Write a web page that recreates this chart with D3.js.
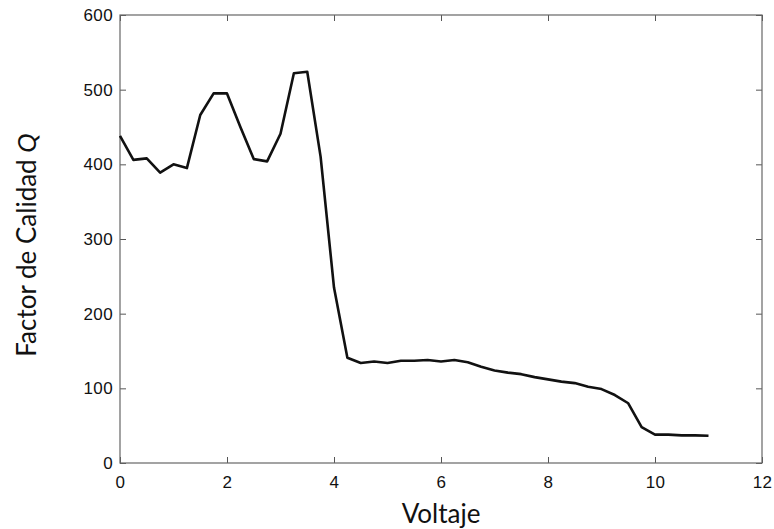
<!DOCTYPE html>
<html>
<head>
<meta charset="utf-8">
<script src="https://cdn.jsdelivr.net/npm/d3@7"></script>
<style>
  body { margin: 0; background: #fff; }
  svg { display: block; }
</style>
</head>
<body>
<svg id="chart" width="774" height="529"></svg>
<script>
// voltage samples (V) and quality factor
var voltaje = [0, 0.25, 0.5, 0.75, 1, 1.25, 1.5, 1.75, 2, 2.25, 2.5, 2.75, 3, 3.25, 3.5, 3.75,
  4, 4.25, 4.5, 4.75, 5, 5.25, 5.5, 5.75, 6, 6.25, 6.5, 6.75, 7, 7.25, 7.5, 7.75,
  8, 8.25, 8.5, 8.75, 9, 9.25, 9.5, 9.75, 10, 10.25, 10.5, 10.75, 11];
var factorQ = [438, 406, 408, 389, 400, 395, 466, 495, 495, 450, 407, 404, 441, 522, 524, 410,
  235, 141, 134, 136, 134, 137, 137, 138, 136, 138, 135, 129, 124, 121, 119, 115,
  112, 109, 107, 102, 99, 91, 80, 48, 38, 38, 37, 37, 36.5];
var xTicks = [0, 2, 4, 6, 8, 10, 12];
var yTicks = [0, 100, 200, 300, 400, 500, 600];

var svg = d3.select("#chart");
var margin = {top: 15, right: 12, bottom: 66, left: 120};
var width = 774 - margin.left - margin.right;
var height = 529 - margin.top - margin.bottom;

var x = d3.scaleLinear().domain([0, 12]).range([0, width]);
var y = d3.scaleLinear().domain([0, 600]).range([height, 0]);

var g = svg.append("g").attr("transform", "translate(" + margin.left + "," + margin.top + ")");

// box ticks point inward on all four sides
function styleAxis(sel) {
  sel.select(".domain").remove();
  sel.selectAll(".tick line").attr("stroke", "#555");
  sel.selectAll(".tick text")
    .style("font-family", "'Liberation Sans', Arial, sans-serif")
    .attr("font-size", 17)
    .attr("letter-spacing", 0.4)
    .attr("fill", "#111");
}

g.append("g").attr("transform", "translate(0," + height + ")")
  .call(d3.axisBottom(x).tickValues(xTicks).tickSize(-6).tickPadding(13))
  .call(styleAxis);
g.append("g")
  .call(d3.axisLeft(y).tickValues(yTicks).tickSize(-6).tickPadding(7))
  .call(styleAxis);
g.append("g")
  .call(d3.axisTop(x).tickValues(xTicks).tickSize(-6).tickFormat(""))
  .call(styleAxis);
g.append("g").attr("transform", "translate(" + width + ",0)")
  .call(d3.axisRight(y).tickValues(yTicks).tickSize(-6).tickFormat(""))
  .call(styleAxis);

g.append("rect")
  .attr("width", width).attr("height", height)
  .attr("fill", "none").attr("stroke", "#666").attr("stroke-width", 1.2);

var line = d3.line()
  .x(function(d, i) { return x(voltaje[i]); })
  .y(function(d) { return y(d); });

g.append("path")
  .datum(factorQ)
  .attr("d", line)
  .attr("fill", "none")
  .attr("stroke", "#111")
  .attr("stroke-width", 2.6)
  .attr("stroke-linejoin", "round");

// axis titles
svg.append("text")
  .attr("x", margin.left + width / 2).attr("y", 523)
  .attr("text-anchor", "middle")
  .attr("font-family", "Lato, Open Sans, sans-serif")
  .attr("font-size", 26)
  .attr("fill", "#111")
  .text("Voltaje");

var yl = svg.append("text")
  .attr("transform", "translate(36,245) rotate(-90)")
  .attr("text-anchor", "middle")
  .attr("font-family", "Lato, Open Sans, sans-serif")
  .attr("font-size", 26)
  .attr("fill", "#111");
yl.append("tspan").text("Factor de Calidad ");
yl.append("tspan").attr("font-style", "italic").text("Q");
</script>
</body>
</html>
